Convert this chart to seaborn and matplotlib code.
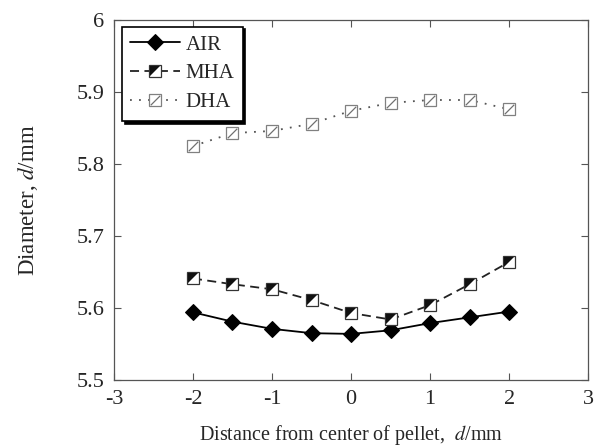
import numpy as np
import pandas as pd
import seaborn as sns
import matplotlib.pyplot as plt
from matplotlib.path import Path
from matplotlib.legend_handler import HandlerTuple

sns.set_style("ticks")
plt.rcParams['font.family'] = ['Liberation Serif', 'DejaVu Serif']
plt.rcParams['mathtext.fontset'] = 'stix'
plt.rcParams['axes.unicode_minus'] = False

# data
distance = [-2, -1.5, -1, -0.5, 0, 0.5, 1, 1.5, 2]
air = [5.594, 5.581, 5.571, 5.565, 5.564, 5.569, 5.579, 5.587, 5.595]
mha = [5.641, 5.633, 5.626, 5.611, 5.593, 5.584, 5.604, 5.633, 5.664]
dha = [5.825, 5.843, 5.846, 5.856, 5.874, 5.885, 5.889, 5.889, 5.876]

df = pd.DataFrame({"x": distance, "AIR": air, "MHA": mha, "DHA": dha})

# custom marker pieces
tri = Path([(-1, -1), (-1, 1), (1, 1), (-1, -1)],
           [Path.MOVETO, Path.LINETO, Path.LINETO, Path.CLOSEPOLY])
slash = Path([(-1, -1), (1, 1)], [Path.MOVETO, Path.LINETO])

fig, ax = plt.subplots(figsize=(6.09, 4.47), dpi=100)
fig.subplots_adjust(left=0.187, right=0.966, top=0.955, bottom=0.150)

sns.lineplot(data=df, x="x", y="AIR", ax=ax, color="black", lw=1.3,
             marker="D", markersize=8.5, markerfacecolor="black",
             markeredgecolor="black")
h_air = ax.lines[-1]

sns.lineplot(data=df, x="x", y="MHA", ax=ax, color="#222222", lw=1.3,
             linestyle=(0, (5, 3)), marker="s", markersize=8.5,
             markerfacecolor="white", markeredgecolor="#333333",
             markeredgewidth=0.9)
h_mha = ax.lines[-1]
h_mha2, = ax.plot(df["x"], df["MHA"], linestyle="none", marker=tri,
                  markersize=6.6, color="#111111", markeredgewidth=0)

sns.lineplot(data=df, x="x", y="DHA", ax=ax, color="#555555", lw=1.3,
             linestyle=(0, (1, 4)), marker="s", markersize=8.5,
             markerfacecolor="white", markeredgecolor="#808080",
             markeredgewidth=0.9)
h_dha = ax.lines[-1]
h_dha2, = ax.plot(df["x"], df["DHA"], linestyle="none", marker=slash,
                  markersize=6.8, color="#707070", markeredgewidth=0.9)

ax.set_xlim(-3, 3)
ax.set_ylim(5.5, 6.0)
ax.set_xticks([-3, -2, -1, 0, 1, 2, 3])
ax.set_yticks([5.5, 5.6, 5.7, 5.8, 5.9, 6.0])
ax.set_yticklabels(["5.5", "5.6", "5.7", "5.8", "5.9", "6"])
ax.tick_params(direction="in", top=True, right=True, labelsize=16,
               length=5, width=0.8, color="#555555", pad=7)
for s in ax.spines.values():
    s.set_color("#555555")
    s.set_linewidth(0.9)

ax.set_xlabel(r"Distance from center of pellet,  $\it{d}$/mm", fontsize=14.5, labelpad=10)
ax.set_ylabel(r"Diameter, $\it{d}$/mm", fontsize=16.5, labelpad=26)

leg = ax.legend([h_air, (h_mha, h_mha2), (h_dha, h_dha2)], ["AIR", "MHA", "DHA"],
                handler_map={tuple: HandlerTuple()},
                loc="upper left", bbox_to_anchor=(0.017, 0.982), borderaxespad=0,
                fontsize=15, frameon=True, fancybox=False, edgecolor="black",
                shadow={"color": "black", "alpha": 1.0}, handlelength=2.4,
                borderpad=0.4, labelspacing=0.45, handletextpad=0.25)
leg.get_frame().set_linewidth(1.2)

fig.savefig("out.png", dpi=100)
